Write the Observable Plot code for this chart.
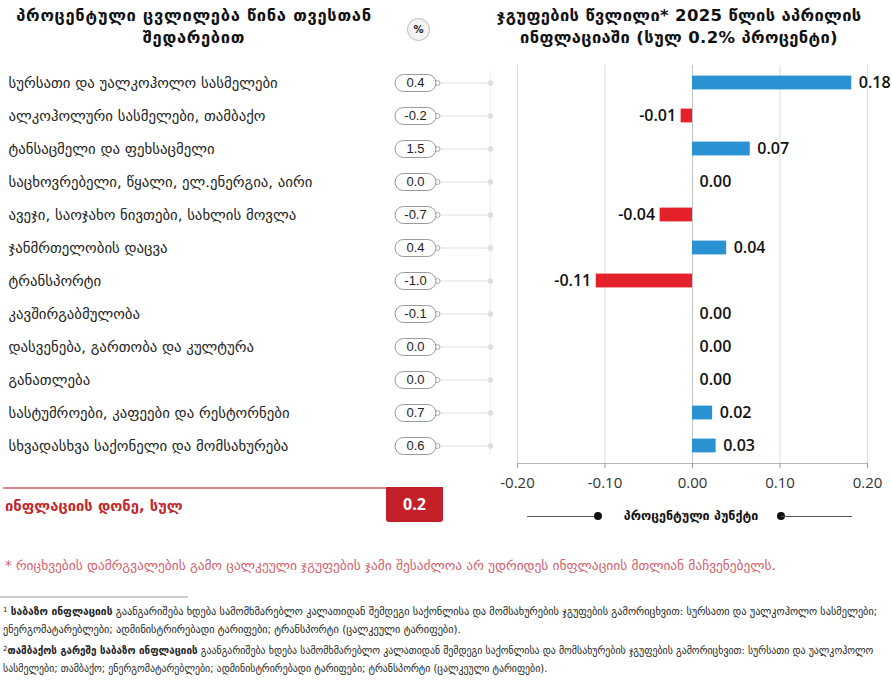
<!DOCTYPE html>
<html>
<head>
<meta charset="utf-8">
<script src="https://cdn.jsdelivr.net/npm/d3@7"></script>
<script src="https://cdn.jsdelivr.net/npm/@observablehq/plot@0.6"></script>
<style>
  body { margin: 0; background: #fff; }
  #wrap { position: relative; width: 892px; height: 682px; font-family: "DejaVu Sans", sans-serif; color: #222; overflow: hidden; }
  .abs { position: absolute; }
  .title { font-weight: bold; font-size: 16.5px; line-height: 22px; text-align: center; color: #111; white-space: nowrap; }
  .fn { font-size: 10.3px; line-height: 18px; white-space: nowrap; color: #222; }
  .fn sup { font-size: 7px; vertical-align: 3px; line-height: 0; }
</style>
</head>
<body>
<div id="wrap">
  <div class="abs title" id="tl" style="left:0; width:388px; top:5px; letter-spacing:0.7px;"></div>
  <div class="abs" style="left:407px; top:18px; width:21px; height:21px; border:1px solid #bbb; border-radius:50%; background:#f3f3f3; font:bold 10px 'DejaVu Sans'; line-height:21px; text-align:center; color:#222;">%</div>
  <div class="abs title" id="tr" style="left:455px; width:448px; top:5px; letter-spacing:0.35px;"></div>
  <div id="chart" class="abs" style="left:0; top:0;"></div>
  <!-- legend -->
  <div class="abs" style="left:527px; top:516px; width:71px; height:1px; background:#555;"></div>
  <div class="abs" style="left:594px; top:512px; width:8px; height:8px; border-radius:50%; background:#111;"></div>
  <div class="abs" id="legtxt" style="left:600px; width:182px; top:508px; text-align:center; font:bold 12.5px 'DejaVu Sans'; color:#111; white-space:nowrap;"></div>
  <div class="abs" style="left:777px; top:512px; width:8px; height:8px; border-radius:50%; background:#111;"></div>
  <div class="abs" style="left:781px; top:516px; width:71px; height:1px; background:#555;"></div>
  <!-- total -->
  <div class="abs" style="left:3px; top:487px; width:383px; height:1.5px; background:#d9868d;"></div>
  <div class="abs" id="totlbl" style="left:5px; top:497px; font:bold 14.8px 'DejaVu Sans'; color:#c1272d; white-space:nowrap;"></div>
  <div class="abs" id="totbox" style="left:386px; top:487px; width:57px; height:35px; background:#c4202a; border-radius:0 0 3px 3px; color:#fff; font:bold 16px 'Open Sans'; line-height:35px; text-align:center;"></div>
  <!-- note -->
  <div class="abs" id="note" style="left:5px; top:558px; font-size:13.4px; color:#d5606c; white-space:nowrap;"></div>
  <div class="abs" style="left:0; top:596px; width:188px; height:2px; background:#ccc;"></div>
  <div class="abs fn" id="fn1" style="left:3px; top:602px;"></div>
  <div class="abs fn" id="fn2" style="left:3px; top:642px; font-size:9.9px;"></div>
</div>
<script>
// ---- data ----
const categories = [
  "სურსათი და უალკოჰოლო სასმელები",
  "ალკოჰოლური სასმელები, თამბაქო",
  "ტანსაცმელი და ფეხსაცმელი",
  "საცხოვრებელი, წყალი, ელ.ენერგია, აირი",
  "ავეჯი, საოჯახო ნივთები, სახლის მოვლა",
  "ჯანმრთელობის დაცვა",
  "ტრანსპორტი",
  "კავშირგაბმულობა",
  "დასვენება, გართობა და კულტურა",
  "განათლება",
  "სასტუმროები, კაფეები და რესტორნები",
  "სხვადასხვა საქონელი და მომსახურება"
];
const pctChange = [0.4, -0.2, 1.5, 0.0, -0.7, 0.4, -1.0, -0.1, 0.0, 0.0, 0.7, 0.6];
const contribution = [0.182, -0.013, 0.066, 0.0, -0.037, 0.039, -0.11, 0.0, 0.0, 0.0, 0.023, 0.027];
const xTicks = [-0.2, -0.1, 0, 0.1, 0.2];
const totalInflation = 0.2;

const titleLeft = ["პროცენტული ცვლილება წინა თვესთან", "შედარებით"];
const titleRight = ["ჯგუფების წვლილი* 2025 წლის აპრილის", "ინფლაციაში (სულ 0.2% პროცენტი)"];
const legendText = "პროცენტული პუნქტი";
const totalLabel = "ინფლაციის დონე, სულ";
const noteText = "* რიცხვების დამრგვალების გამო ცალკეული ჯგუფების ჯამი შესაძლოა არ უდრიდეს ინფლაციის მთლიან მაჩვენებელს.";
const fn1 = ["<sup>1</sup> <b>საბაზო ინფლაციის</b> გაანგარიშება ხდება სამომხმარებლო კალათიდან შემდეგი საქონლისა და მომსახურების ჯგუფების გამორიცხვით: სურსათი და უალკოჰოლო სასმელები;",
             "ენერგომატარებლები; ადმინისტრირებადი ტარიფები; ტრანსპორტი (ცალკეული ტარიფები)."];
const fn2 = ["<sup>2</sup><b>თამბაქოს გარეშე საბაზო ინფლაციის</b> გაანგარიშება ხდება სამომხმარებლო კალათიდან შემდეგი საქონლისა და მომსახურების ჯგუფების გამორიცხვით: სურსათი და უალკოჰოლო",
             "სასმელები; თამბაქო; ენერგომატარებლები; ადმინისტრირებადი ტარიფები; ტრანსპორტი (ცალკეული ტარიფები)."];

// ---- text blocks ----
document.getElementById("tl").innerHTML = titleLeft.join("<br>");
document.getElementById("tr").innerHTML = titleRight.join("<br>");
document.getElementById("legtxt").textContent = legendText;
document.getElementById("totlbl").textContent = totalLabel;
document.getElementById("totbox").textContent = totalInflation.toFixed(1);
document.getElementById("note").textContent = noteText;
document.getElementById("fn1").innerHTML = fn1.join("<br>");
document.getElementById("fn2").innerHTML = fn2.join("<br>");

const rows = categories.map((cat, i) => ({cat, pct: pctChange[i], contrib: contribution[i]}));

// custom symbols
const pill = {
  draw(ctx) {
    const hw = 20.5, r = 8.5, c = hw - r;
    ctx.moveTo(-c, -r);
    ctx.lineTo(c, -r);
    ctx.arc(c, 0, r, -Math.PI / 2, Math.PI / 2);
    ctx.lineTo(-c, r);
    ctx.arc(-c, 0, r, Math.PI / 2, 3 * Math.PI / 2);
    ctx.closePath();
  }
};
const knob = {
  draw(ctx) {
    ctx.moveTo(24.5, 0);
    ctx.arc(22, 0, 2.5, 0, 2 * Math.PI);
    ctx.closePath();
  }
};
const connector = {
  draw(ctx) {
    ctx.moveTo(24.5, 0);
    ctx.lineTo(73, 0);
    ctx.moveTo(77.5, 0);
    ctx.arc(75, 0, 2.5, 0, 2 * Math.PI);
    ctx.closePath();
  }
};

const blue = "#2a91d3", red = "#e4202b";
const pillDx = -102;

const chart = Plot.plot({
  width: 892,
  height: 500,
  marginLeft: 517,
  marginRight: 25,
  marginTop: 65,
  marginBottom: 37,
  style: {fontFamily: "'Open Sans', 'DejaVu Sans', sans-serif", background: "transparent"},
  x: {domain: [-0.2, 0.2], label: null},
  y: {domain: categories, axis: null, padding: 0},
  marks: [
    Plot.ruleX(xTicks, {stroke: "#dcdcdc", strokeWidth: 1}),
    Plot.ruleX([0], {stroke: "#c4c4c4"}),
    Plot.ruleX([-0.2], {dx: -27, stroke: "#eeeeee", insetTop: 5, insetBottom: 8}),
    Plot.frame({anchor: "bottom", stroke: "#b8b8b8"}),
    Plot.axisX({ticks: xTicks, tickFormat: d => d.toFixed(2), tickSize: 5, tickPadding: 9, fontSize: 15, fill: "#333", stroke: "#999", label: null}),
    // left labels
    Plot.text(rows, {y: "cat", text: "cat", frameAnchor: "left", dx: -509, textAnchor: "start", fontSize: 14.8, fill: "#222", fontFamily: "'DejaVu Sans', sans-serif"}),
    // connectors + pills
    Plot.dot(rows, {y: "cat", frameAnchor: "left", dx: pillDx, symbol: connector, stroke: "#e2e2e2", fill: "#dddddd", strokeWidth: 1}),
    Plot.dot(rows, {y: "cat", frameAnchor: "left", dx: pillDx, symbol: knob, stroke: "#a8a8a8", fill: "#fff", strokeWidth: 1}),
    Plot.dot(rows, {y: "cat", frameAnchor: "left", dx: pillDx, symbol: pill, stroke: "#9a9a9a", fill: "#fff", strokeWidth: 1}),
    Plot.text(rows, {y: "cat", text: d => d.pct.toFixed(1), frameAnchor: "left", dx: pillDx, textAnchor: "middle", fontSize: 13, fill: "#222", fontFamily: "'Liberation Sans', Arial, sans-serif"}),
    // bars
    Plot.barX(rows, {x: "contrib", y: "cat", fill: d => d.contrib >= 0 ? blue : red, insetTop: 9.6, insetBottom: 9.6}),
    Plot.text(rows.filter(d => d.contrib >= 0), {x: "contrib", y: "cat", text: d => d.contrib.toFixed(2), textAnchor: "start", dx: 7, fontSize: 16, fontWeight: 600, fill: "#111"}),
    Plot.text(rows.filter(d => d.contrib < 0), {x: "contrib", y: "cat", text: d => d.contrib.toFixed(2), textAnchor: "end", dx: -5, fontSize: 16, fontWeight: 600, fill: "#111"})
  ]
});
document.getElementById("chart").appendChild(chart);
</script>
</body>
</html>
